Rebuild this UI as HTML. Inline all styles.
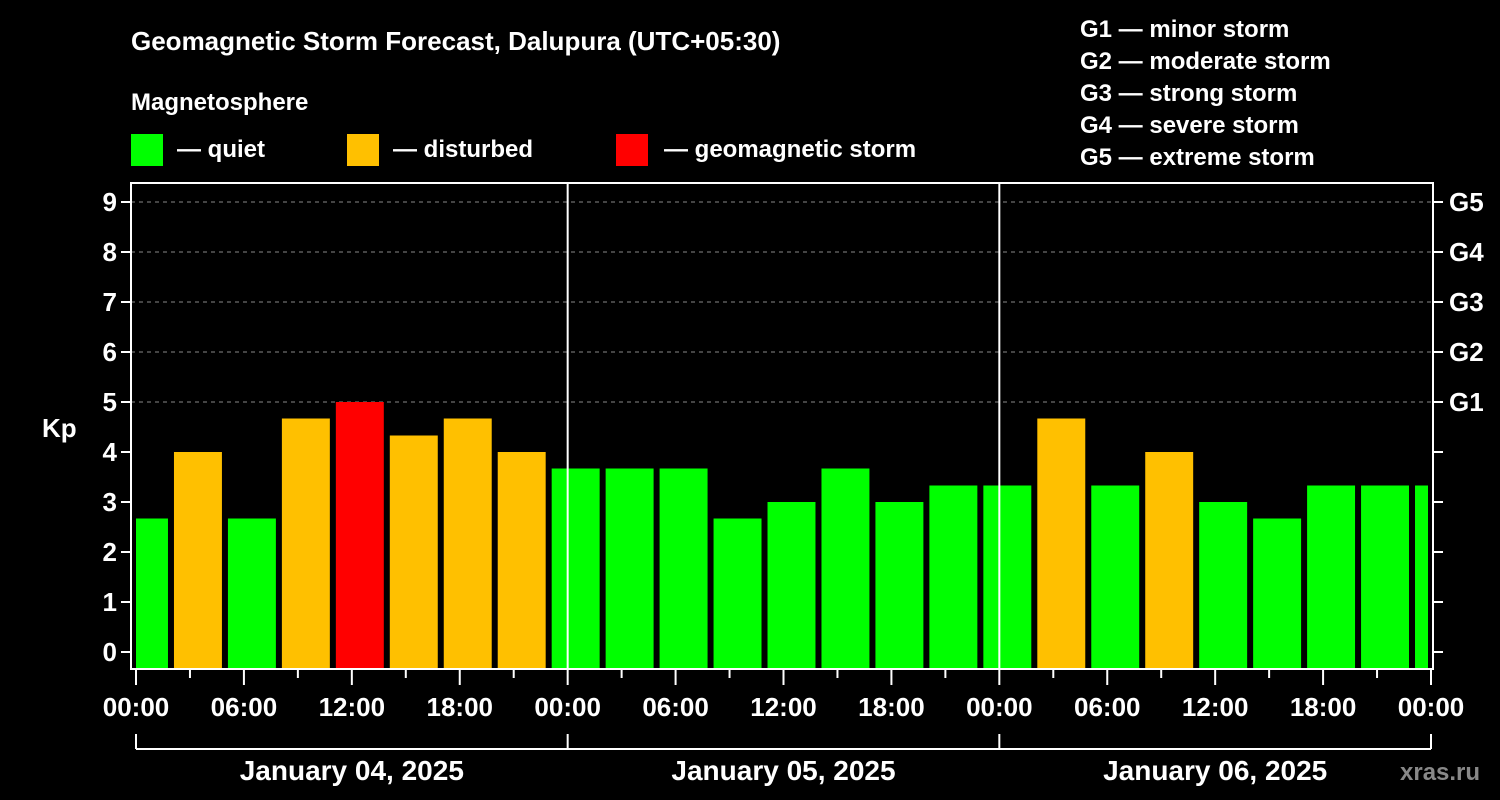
<!DOCTYPE html>
<html><head><meta charset="utf-8"><style>
body{margin:0;background:#000;width:1500px;height:800px;overflow:hidden}
svg{display:block;font-family:"Liberation Sans",sans-serif;font-weight:bold}
</style></head><body>
<svg id="c" width="1500" height="800" xmlns="http://www.w3.org/2000/svg">
<rect width="1500" height="800" fill="#000"/>
<text x="131" y="50" fill="#fff" font-size="26">Geomagnetic Storm Forecast, Dalupura (UTC+05:30)</text>
<text x="131" y="110" fill="#fff" font-size="24">Magnetosphere</text>
<g><rect x="131" y="134" width="32" height="32" fill="#00ff00"/><text x="177" y="157" fill="#fff" font-size="24">— quiet</text></g>
<g><rect x="347" y="134" width="32" height="32" fill="#ffc000"/><text x="393" y="157" fill="#fff" font-size="24">— disturbed</text></g>
<g><rect x="616" y="134" width="32" height="32" fill="#ff0000"/><text x="664" y="157" fill="#fff" font-size="24">— geomagnetic storm</text></g>
<g fill="#fff" font-size="24">
<text x="1080" y="37">G1 — minor storm</text><text x="1080" y="69">G2 — moderate storm</text><text x="1080" y="101">G3 — strong storm</text><text x="1080" y="133">G4 — severe storm</text><text x="1080" y="165">G5 — extreme storm</text></g>
<text x="42" y="437" fill="#fff" font-size="26">Kp</text>
<text x="1400" y="780" fill="#888" font-size="24">xras.ru</text>
<g id="grid"></g><g id="bars"></g><g id="axes"></g>
</svg>
<script>
const kpValues=[2.67,4,2.67,4.67,5,4.33,4.67,4,3.67,3.67,3.67,2.67,3,3.67,3,3.33,3.33,4.67,3.33,4,3,2.67,3.33,3.33,3.33];
const binStartHours=[-1,2,5,8,11,14,17,20,23,26,29,32,35,38,41,44,47,50,53,56,59,62,65,68,71];
const hourTickLabels=["00:00","06:00","12:00","18:00","00:00","06:00","12:00","18:00","00:00","06:00","12:00","18:00","00:00"];
const dayLabels=["January 04, 2025","January 05, 2025","January 06, 2025"];
const gLabels=["G1","G2","G3","G4","G5"];
const NS="http://www.w3.org/2000/svg";
const X0=136,X1=1431,L=131,R=1433,T=183,B=669;
const xs=h=>X0+h*(X1-X0)/72;
const ys=k=>652-k*50;
function mk(tag,a,parent,txt){const e=document.createElementNS(NS,tag);for(const k in a)e.setAttribute(k,a[k]);if(txt!==undefined)e.textContent=txt;parent.appendChild(e);return e;}
const grid=document.getElementById('grid'),bars=document.getElementById('bars'),axes=document.getElementById('axes');
for(let k=5;k<=9;k++){const g=mk('line',{x1:L,x2:R,y1:ys(k),y2:ys(k),stroke:'#888','stroke-dasharray':'4,4','stroke-width':1},grid);

}
kpValues.forEach((v,i)=>{const h=binStartHours[i];let x1=xs(h)+2,x2=xs(h+3)-4;x1=Math.max(x1,X0);x2=Math.min(x2,1428);
const col=v>=5?'#ff0000':(v>=4?'#ffc000':'#00ff00');
const r=mk('rect',{x:x1,y:ys(v),width:x2-x1,height:668-ys(v),fill:col},bars);

});
const fr=mk('rect',{x:L,y:T,width:R-L,height:B-T,fill:'none',stroke:'#fff','stroke-width':2},axes);


[24,48].forEach(h=>{const d=mk('line',{x1:xs(h),x2:xs(h),y1:T,y2:B,stroke:'#fff','stroke-width':2},axes);

});
for(let k=0;k<=9;k++){
mk('line',{x1:L-10,x2:L,y1:ys(k),y2:ys(k),stroke:'#fff','stroke-width':2},axes);
mk('line',{x1:R,x2:R+10,y1:ys(k),y2:ys(k),stroke:'#fff','stroke-width':2},axes);
const t=mk('text',{x:L-14,y:ys(k)+9,fill:'#fff','font-size':26,'text-anchor':'end'},axes,String(k));

}
gLabels.forEach((g,i)=>{const t=mk('text',{x:1449,y:ys(5+i)+9,fill:'#fff','font-size':26},axes,g);

});
for(let h=0;h<=72;h+=3){mk('line',{x1:xs(h),x2:xs(h),y1:B,y2:h%6==0?685:678,stroke:'#fff','stroke-width':2},axes);}
hourTickLabels.forEach((s,i)=>{const t=mk('text',{x:xs(i*6),y:716,fill:'#fff','font-size':26,'text-anchor':'middle'},axes,s);

});
mk('line',{x1:X0,x2:X1,y1:749,y2:749,stroke:'#fff','stroke-width':2},axes);
[0,24,48,72].forEach(h=>mk('line',{x1:xs(h),x2:xs(h),y1:734,y2:749,stroke:'#fff','stroke-width':2},axes));
dayLabels.forEach((s,i)=>{const t=mk('text',{x:xs(i*24+12),y:780,fill:'#fff','font-size':28,'text-anchor':'middle'},axes,s);

});
</script>
</body></html>
